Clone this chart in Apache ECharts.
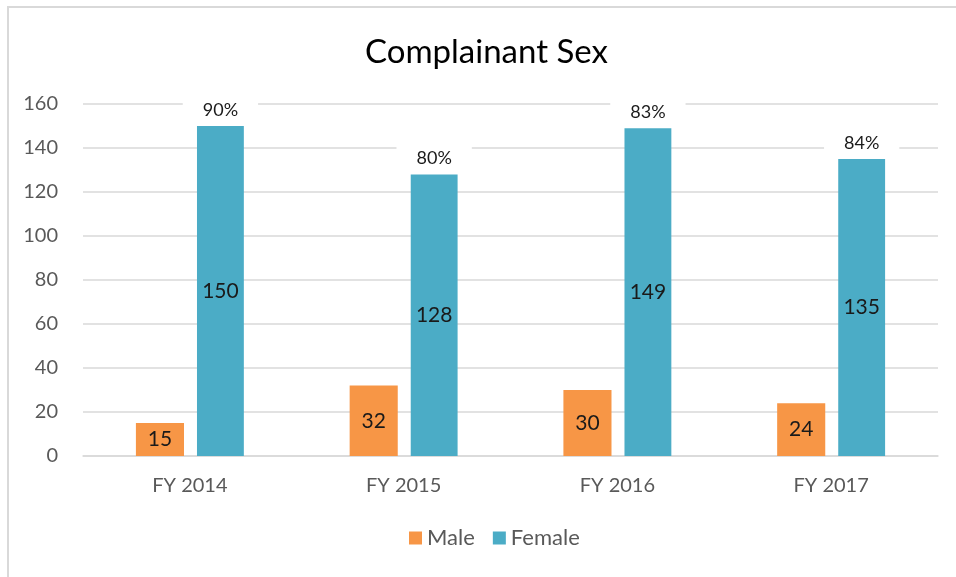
<!DOCTYPE html>
<html>
<head>
<meta charset="utf-8">
<script src="https://cdn.jsdelivr.net/npm/echarts@6/dist/echarts.min.js"></script>
<style>
  html, body { margin: 0; padding: 0; background: #fff; }
  #frame { position: absolute; left: 7px; top: 6px; width: 1000px; height: 700px;
           border-left: 2px solid #d9d9d9; border-top: 2px solid #d9d9d9; }
  #chart { position: absolute; left: 0; top: 0; width: 956px; height: 577px; }
</style>
</head>
<body>
<div id="frame"></div>
<div id="chart"></div>
<script>
const categories = ['FY 2014', 'FY 2015', 'FY 2016', 'FY 2017'];
const maleValues = [15, 32, 30, 24];
const femaleValues = [150, 128, 149, 135];
const femalePct = ['90%', '80%', '83%', '84%'];

const FONT = 'Lato, "Noto Sans", sans-serif';

const chart = echarts.init(document.getElementById('chart'));

chart.setOption({
  animation: false,
  textStyle: { fontFamily: FONT },
  title: {
    text: 'Complainant Sex',
    left: 360,
    top: 31,
    textStyle: { fontFamily: FONT, fontSize: 33, fontWeight: 'normal', color: '#000' }
  },
  legend: {
    data: ['Male', 'Female'],
    bottom: 23,
    left: 404,
    itemWidth: 13,
    itemHeight: 13,
    itemGap: 18,
    icon: 'rect',
    textStyle: { fontFamily: FONT, fontSize: 22, color: '#595959' }
  },
  grid: { left: 83, right: 18, top: 104, bottom: 121 },
  xAxis: {
    type: 'category',
    data: categories,
    axisLine: { lineStyle: { color: '#d9d9d9', width: 1.5 } },
    axisTick: { show: false },
    axisLabel: { fontFamily: FONT, fontSize: 20, color: '#595959', margin: 20 }
  },
  yAxis: {
    type: 'value',
    min: 0,
    max: 160,
    interval: 20,
    axisLine: { show: false },
    axisTick: { show: false },
    axisLabel: { fontFamily: FONT, fontSize: 20, color: '#595959', margin: 25 },
    splitLine: { lineStyle: { color: '#d9d9d9', width: 1.5 } }
  },
  series: [
    {
      name: 'Male',
      type: 'bar',
      data: maleValues,
      barWidth: '22.5%',
      barGap: '27%',
      itemStyle: { color: '#F79646' },
      label: { show: true, position: 'inside', fontFamily: FONT, fontSize: 21, color: '#1a1a1a' }
    },
    {
      name: 'Female',
      type: 'bar',
      stack: 'f',
      data: femaleValues,
      itemStyle: { color: '#4BACC6' },
      label: { show: true, position: 'inside', fontFamily: FONT, fontSize: 21, color: '#1a1a1a' }
    },
    {
      name: 'pct',
      type: 'bar',
      stack: 'f',
      data: femaleValues.map(() => 0),
      itemStyle: { color: 'transparent' },
      label: {
        show: true,
        position: 'top',
        distance: 4,
        formatter: p => femalePct[p.dataIndex],
        fontFamily: FONT,
        fontSize: 18,
        color: '#1a1a1a',
        backgroundColor: '#fff',
        padding: [3, 20, 3, 20]
      }
    }
  ]
});
</script>
</body>
</html>
